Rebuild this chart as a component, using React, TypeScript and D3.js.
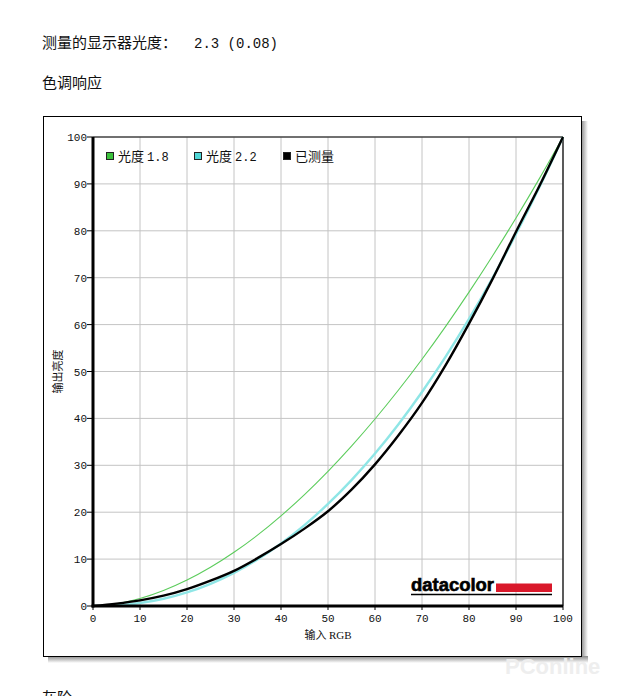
import React from "react";
import * as d3 from "d3";

const inputs = [0, 5, 10, 15, 20, 25, 30, 35, 40, 45, 50, 55, 60, 65, 70, 75, 80, 85, 90, 95, 100];
const gamma18 = [0, 0.46, 1.58, 3.29, 5.52, 8.25, 11.45, 15.1, 19.22, 23.76, 28.72, 34.1, 39.87, 46.05, 52.62, 59.58, 66.92, 74.64, 82.72, 91.18, 100];
const gamma22 = [0, 0.14, 0.63, 1.54, 2.9, 4.74, 7.07, 9.93, 13.32, 17.26, 21.76, 26.84, 32.5, 38.76, 45.63, 53.1, 61.2, 69.94, 79.31, 89.33, 100];
const measured = [0, 0.5, 1.2, 2.2, 3.6, 5.4, 7.5, 10.2, 13.2, 16.5, 20.2, 24.8, 30.2, 36.4, 43.3, 51.3, 60.2, 69.7, 79.8, 89.6, 100];
const ticks = [0, 10, 20, 30, 40, 50, 60, 70, 80, 90, 100];
const legendItems = [
  { name: "光度", value: "1.8", color: "#3cc23c" },
  { name: "光度", value: "2.2", color: "#4fd6d6" },
  { name: "已测量", value: "", color: "#000000" },
];

const W = 618;
const H = 696;
const cjk = "'Noto Sans CJK SC', 'Noto Sans', sans-serif";
const mono = "'Liberation Mono', 'DejaVu Sans Mono', monospace";

export default function App() {
  const x = d3.scaleLinear().domain([0, 100]).range([93, 563]);
  const y = d3.scaleLinear().domain([0, 100]).range([606, 137]);
  const line = (vals: number[]) =>
    d3
      .line<number>()
      .x((_, i) => x(inputs[i]))
      .y((v) => y(v))
      .curve(d3.curveCatmullRom.alpha(0.5))(vals) as string;

  const legendX = [106, 194, 283];

  return (
    <div style={{ position: "absolute", left: 0, top: 0 }}>
      <svg width={W} height={H} style={{ display: "block", background: "#fff" }}>
        <defs>
          <linearGradient id="shR" x1="0" x2="1" y1="0" y2="0">
            <stop offset="0" stopColor="#888" />
            <stop offset="1" stopColor="#fff" />
          </linearGradient>
          <linearGradient id="shB" x1="0" x2="0" y1="0" y2="1">
            <stop offset="0" stopColor="#888" />
            <stop offset="1" stopColor="#fff" />
          </linearGradient>
          <clipPath id="plotClip">
            <rect x={x(0)} y={y(100) - 2} width={x(100) - x(0) + 2} height={y(0) - y(100) + 2} />
          </clipPath>
        </defs>

        <text x={42} y={48} fontFamily={cjk} fontSize={15} fill="#111">
          测量的显示器光度：
          <tspan x={194} fontFamily={mono} fontSize={14}>2.3 (0.08)</tspan>
        </text>
        <text x={42} y={88} fontFamily={cjk} fontSize={15} fill="#111">色调响应</text>

        {/* frame shadow */}
        <rect x={581} y={121} width={7} height={540} fill="url(#shR)" />
        <rect x={48} y={656} width={540} height={7} fill="url(#shB)" />
        <rect x={43.5} y={116.5} width={538} height={540} fill="#fff" stroke="#000" strokeWidth={1} />

        {/* grid */}
        {ticks.map((t) => (
          <g key={"g" + t}>
            <line x1={x(t)} x2={x(t)} y1={y(0)} y2={y(100)} stroke="#c4c4c4" strokeWidth={1} />
            <line x1={x(0)} x2={x(100)} y1={y(t)} y2={y(t)} stroke="#c4c4c4" strokeWidth={1} />
          </g>
        ))}
        <line x1={x(0)} x2={x(100)} y1={y(100)} y2={y(100)} stroke="#000" strokeWidth={1.2} />
        <line x1={x(100)} x2={x(100)} y1={y(0)} y2={y(100)} stroke="#000" strokeWidth={1.2} />

        {/* datacolor logo */}
        <text
          x={411}
          y={591}
          fontFamily="'Liberation Sans', Arial, sans-serif"
          fontWeight={900}
          fontSize={18}
          fill="#000"
          textLength={83}
          lengthAdjust="spacingAndGlyphs"
          stroke="#000"
          strokeWidth={0.6}
        >
          datacolor
        </text>
        <rect x={496} y={583.5} width={56} height={8.5} fill="#d9182a" />
        <line x1={411} x2={552} y1={594.5} y2={594.5} stroke="#000" strokeWidth={1.5} />

        {/* curves */}
        <g clipPath="url(#plotClip)">
          <path d={line(gamma22)} fill="none" stroke="#8fe6e6" strokeWidth={2.4} />
          <path d={line(gamma18)} fill="none" stroke="#5ccc5c" strokeWidth={1.1} />
          <path d={line(measured)} fill="none" stroke="#000" strokeWidth={2.4} />
        </g>

        {/* axes */}
        <line x1={x(0)} x2={x(0)} y1={y(0) + 1.5} y2={y(100)} stroke="#000" strokeWidth={3} />
        <line x1={x(0) - 1.5} x2={x(100)} y1={y(0)} y2={y(0)} stroke="#000" strokeWidth={3} />
        {ticks.map((t) => (
          <g key={"t" + t}>
            <line x1={x(0) - 6} x2={x(0)} y1={y(t)} y2={y(t)} stroke="#000" strokeWidth={1} />
            <text x={87} y={y(t) + 4} textAnchor="end" fontFamily={mono} fontSize={11} fill="#111">
              {t}
            </text>
            <line x1={x(t)} x2={x(t)} y1={y(0)} y2={y(0) + 4} stroke="#000" strokeWidth={1} />
            <text x={x(t)} y={y(0) + 16} textAnchor="middle" fontFamily={mono} fontSize={11} fill="#111">
              {t}
            </text>
          </g>
        ))}
        <text x={328} y={639} textAnchor="middle" fontFamily={cjk} fontSize={11} fill="#111">
          输入 <tspan fontFamily="'Liberation Serif', serif">RGB</tspan>
        </text>
        <text
          transform={`translate(62, ${y(50)}) rotate(-90)`}
          textAnchor="middle"
          fontFamily={cjk}
          fontSize={11}
          fill="#111"
        >
          输出亮度
        </text>

        {/* legend */}
        {legendItems.map((d, i) => (
          <g key={i}>
            <rect x={legendX[i] + 0.5} y={152.5} width={7} height={7} fill={d.color} stroke="#222" strokeWidth={1} />
            <text x={legendX[i] + 12} y={161} fontFamily={cjk} fontSize={13} fill="#111">
              {d.name}
              {d.value && (
                <tspan fontFamily={mono} fontSize={12} dx={3}>
                  {d.value}
                </tspan>
              )}
            </text>
          </g>
        ))}

        <text x={505} y={674} fontFamily="'Liberation Sans', sans-serif" fontSize={22} fill="#eee" fontWeight="bold">
          PConline
        </text>
        <text x={42} y={703} fontFamily={cjk} fontSize={15} fill="#111">灰阶</text>
      </svg>
    </div>
  );
}
